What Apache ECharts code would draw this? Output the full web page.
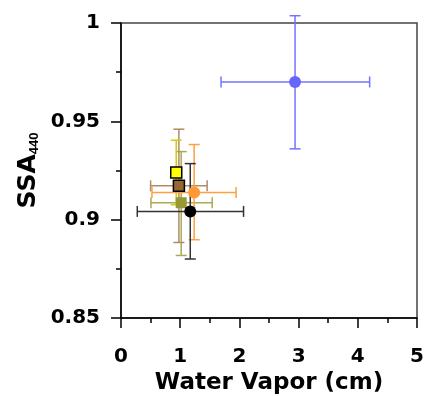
<!DOCTYPE html>
<html>
<head>
<meta charset="utf-8">
<script src="https://cdn.jsdelivr.net/npm/echarts@6/dist/echarts.min.js"></script>
<style>html,body{margin:0;padding:0;background:#fff}#c{width:428px;height:396px}</style>
</head>
<body>
<div id="c"></div>
<script>
// ---- data ----
const seriesNames = ['Blue', 'Olive', 'Brown', 'Yellow', 'Orange', 'Black'];
const xVals  = [2.94, 1.017, 0.978, 0.933, 1.236, 1.17];
const yVals  = [0.970, 0.9086, 0.9172, 0.924, 0.9138, 0.9042];
const xLow   = [1.69, 0.506, 0.50, 0.88, 0.523, 0.275];
const xHigh  = [4.20, 1.54, 1.455, 0.98, 1.944, 2.07];
const yLow   = [0.936, 0.8818, 0.8884, 0.9076, 0.8898, 0.880];
const yHigh  = [1.0037, 0.9346, 0.946, 0.9404, 0.9382, 0.9285];
const xTicks = [0, 1, 2, 3, 4, 5];
const yTicks = [0.85, 0.9, 0.95, 1];

// ---- styles ----
const markerColors = ['#6666ff', '#999933', '#996633', '#ffff00', '#ff9933', '#000000'];
const barColors    = ['#7373ff', '#aaaa55', '#b08a66', '#cccc11', '#ff9f40', '#333333'];
const markerShapes = ['circle', 'rect', 'rect', 'rect', 'circle', 'circle'];
const markerBorders = [null, null, '#000', '#000', null, null];
const FONT = '"DejaVu Sans", Verdana, sans-serif';
const SUB_FONT = '"Liberation Sans", Arial, sans-serif';

const chart = echarts.init(document.getElementById('c'), null, {renderer: 'canvas'});

const series = [];
seriesNames.forEach((n, i) => {
  series.push({
    type: 'custom',
    name: n + ' err',
    z: 2,
    encode: {x: [0, 2, 3], y: [1, 4, 5]},
    data: [[xVals[i], yVals[i], xLow[i], xHigh[i], yLow[i], yHigh[i]]],
    renderItem: function (params, api) {
      const x = api.value(0), y = api.value(1);
      const a = api.coord([api.value(2), y]);
      const b = api.coord([api.value(3), y]);
      const c = api.coord([x, api.value(4)]);
      const d = api.coord([x, api.value(5)]);
      const cap = 5.5;
      const st = {stroke: barColors[i], lineWidth: 1.5};
      const L = (x1, y1, x2, y2) => ({type: 'line', shape: {x1, y1, x2, y2}, style: st});
      return {type: 'group', children: [
        L(a[0], a[1], b[0], b[1]),
        L(c[0], c[1], d[0], d[1]),
        L(a[0], a[1] - cap, a[0], a[1] + cap),
        L(b[0], b[1] - cap, b[0], b[1] + cap),
        L(c[0] - cap, c[1], c[0] + cap, c[1]),
        L(d[0] - cap, d[1], d[0] + cap, d[1])
      ]};
    }
  });
});
seriesNames.forEach((n, i) => {
  series.push({
    type: 'scatter',
    name: n,
    z: 3 + i,
    symbol: markerShapes[i],
    symbolSize: markerShapes[i] === 'rect' ? 11 : 12,
    itemStyle: {
      color: markerColors[i],
      borderColor: markerBorders[i] || markerColors[i],
      borderWidth: markerBorders[i] ? 1.5 : 0,
      opacity: 1
    },
    data: [[xVals[i], yVals[i]]]
  });
});

chart.setOption({
  animation: false,
  grid: {left: 121, right: 11, top: 23, bottom: 78, containLabel: false, outerBoundsMode: 'none',
    show: true, borderColor: '#444', borderWidth: 1.5, backgroundColor: 'transparent'},
  xAxis: {
    type: 'value', min: xTicks[0], max: xTicks[xTicks.length - 1], interval: 1,
    name: 'Water Vapor (cm)', nameLocation: 'middle', nameGap: 54, nameMoveOverlap: false,
    nameTextStyle: {fontFamily: FONT, fontSize: 23, fontWeight: 'bold', color: '#000'},
    axisLine: {show: true, onZero: false, lineStyle: {color: '#000', width: 1.5}},
    axisTick: {show: true, inside: false, length: 10, lineStyle: {color: '#000', width: 1.5}},
    minorTick: {show: true, splitNumber: 2, length: 5, lineStyle: {color: '#000', width: 1.5}},
    splitLine: {show: false},
    axisLabel: {fontFamily: FONT, fontSize: 20, fontWeight: 'bold', color: '#000', margin: 29}
  },
  yAxis: {
    type: 'value', min: yTicks[0], max: yTicks[yTicks.length - 1], interval: 0.05,
    name: '{a|SSA}{b|440}', nameLocation: 'middle', nameGap: 80, nameRotate: 90, nameMoveOverlap: false,
    nameTextStyle: {
      color: '#000',
      rich: {
        a: {fontFamily: FONT, fontSize: 25, fontWeight: 'bold', color: '#000', verticalAlign: 'top', lineHeight: 25, padding: [0, 0, 7, 0]},
        b: {fontFamily: SUB_FONT, fontSize: 13, fontWeight: 'bold', color: '#000', verticalAlign: 'bottom', lineHeight: 13}
      }
    },
    axisLine: {show: true, onZero: false, lineStyle: {color: '#000', width: 1.5}},
    axisTick: {show: true, inside: false, length: 10, lineStyle: {color: '#000', width: 1.5}},
    minorTick: {show: true, splitNumber: 2, length: 5, lineStyle: {color: '#000', width: 1.5}},
    splitLine: {show: false},
    axisLabel: {fontFamily: FONT, fontSize: 20, fontWeight: 'bold', color: '#000', margin: 21,
      formatter: v => String(parseFloat(v.toFixed(2)))}
  },
  series: series
});
</script>
</body>
</html>
